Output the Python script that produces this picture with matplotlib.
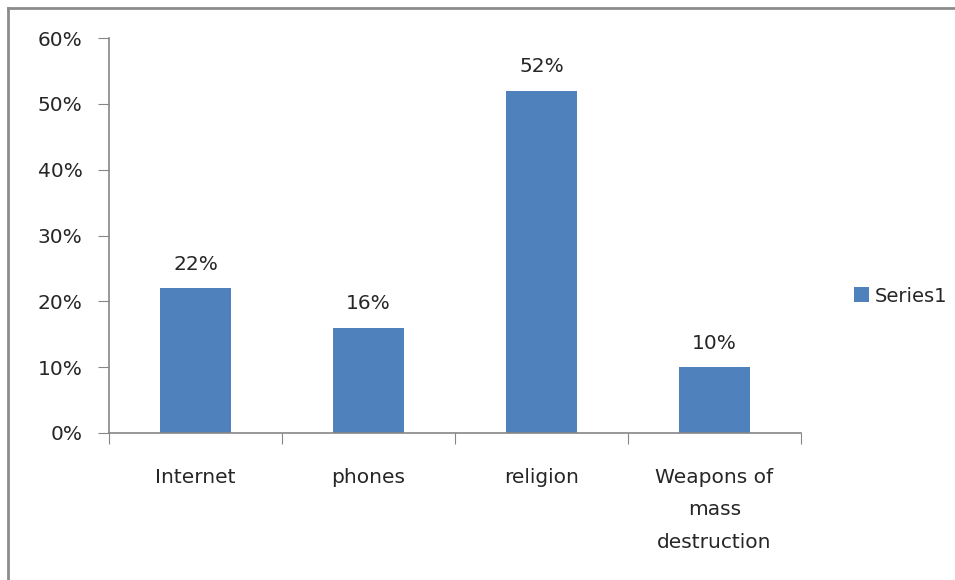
import numpy as np
import matplotlib
matplotlib.use("Agg")
import matplotlib.pyplot as plt
from matplotlib.lines import Line2D
from matplotlib.ticker import FuncFormatter

categories = ['Internet', 'phones', 'religion', 'Weapons of\nmass\ndestruction']
values = [0.22, 0.16, 0.52, 0.10]
series_name = 'Series1'

plt.rcParams['font.family'] = ['DejaVu Sans']
grey = '#868686'
txt = '#262626'

fig = plt.figure(figsize=(9.55, 5.8), dpi=100)
ax = fig.add_axes([109/955, 1 - 433/580, (801 - 109)/955, (433 - 38)/580])

x = np.arange(len(categories))
bars = ax.bar(x, values, width=0.41, color='#4F81BD', label=series_name)

for xi, v in zip(x, values):
    ax.text(xi, v + 0.022, f'{v:.0%}', ha='center', va='bottom', fontsize=14.5, color=txt)

ax.set_xlim(-0.5, len(categories) - 0.5)
ax.set_ylim(0, 0.6)
ax.set_yticks(np.arange(0, 0.61, 0.1))
ax.yaxis.set_major_formatter(FuncFormatter(lambda v, p: f'{v:.0%}'))
ax.set_xticks(np.arange(-0.5, len(categories), 1), minor=False)
ax.set_xticklabels([])
ax.set_xticks(x, minor=True)
ax.set_xticklabels(categories, minor=True, fontsize=14.5, color=txt, linespacing=1.9)
ax.tick_params(axis='x', which='minor', length=0, pad=25)
ax.tick_params(axis='x', which='major', length=8, color=grey, direction='out')
ax.tick_params(axis='y', length=8, color=grey, labelsize=14.5, labelcolor=txt, pad=11)

for s in ['top', 'right']:
    ax.spines[s].set_visible(False)
for s in ['left', 'bottom']:
    ax.spines[s].set_color(grey)
    ax.spines[s].set_linewidth(1.2)

leg = fig.legend(handles=[bars], labels=[series_name], loc='center left',
                 bbox_to_anchor=(836/955, 1 - 296/580), frameon=False,
                 fontsize=14, handlelength=0.8, handleheight=0.8,
                 handletextpad=0.3, labelcolor=txt)

# outer chart frame
fig.add_artist(Line2D([8/955, 8/955], [0, 1 - 8/580], transform=fig.transFigure,
                      color='#8c8c8c', lw=2))
fig.add_artist(Line2D([8/955, 1], [1 - 8/580, 1 - 8/580], transform=fig.transFigure,
                      color='#8c8c8c', lw=2))

fig.savefig('out.png', dpi=100, facecolor='white')
